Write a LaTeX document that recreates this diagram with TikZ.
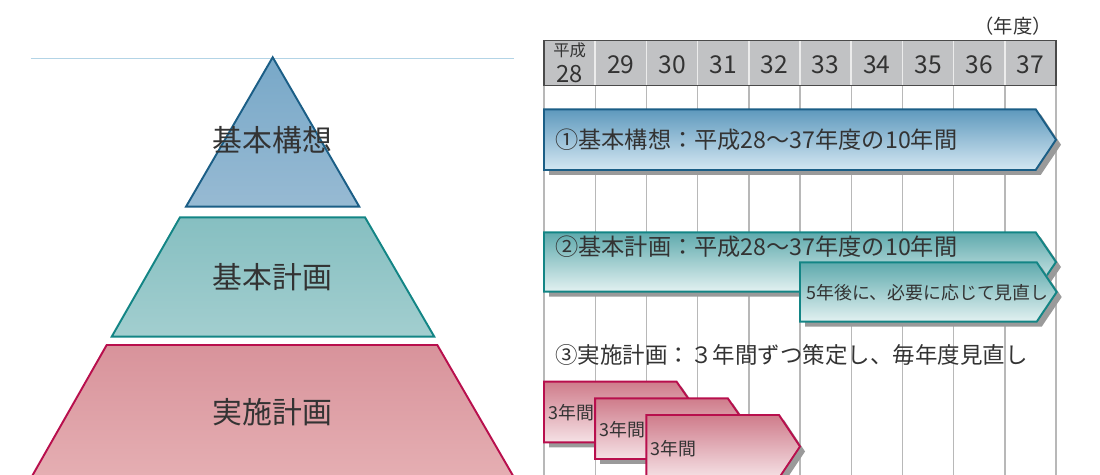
\documentclass[tikz,border=0pt]{standalone}
\usepackage{fontspec}
\setmainfont{Noto Sans CJK JP}
\definecolor{txtc}{HTML}{333333}
\definecolor{blueE}{HTML}{1B5E86}
\definecolor{blueT}{HTML}{5E99BD}
\definecolor{blueB}{HTML}{D4E7F2}
\definecolor{tealE}{HTML}{138585}
\definecolor{tealT}{HTML}{5FAAAD}
\definecolor{tealB}{HTML}{E2F1F1}
\definecolor{pinkE}{HTML}{B80F4D}
\definecolor{pinkT}{HTML}{CF7C8B}
\definecolor{pinkB}{HTML}{F5E1E5}
\definecolor{pyrBT}{HTML}{78A8C8}
\definecolor{pyrBB}{HTML}{97BAD3}
\definecolor{pyrTT}{HTML}{86BFC1}
\definecolor{pyrTB}{HTML}{A2CECF}
\definecolor{pyrPT}{HTML}{D8939B}
\definecolor{pyrPB}{HTML}{E6B0B4}
\definecolor{shad}{HTML}{9A9A9A}
\definecolor{hdr}{HTML}{C1C2C4}
\definecolor{hdrE}{HTML}{4A4A4A}
\definecolor{gridc}{HTML}{B8B8B8}
\definecolor{topln}{HTML}{B3D4E6}
\begin{document}
\begin{tikzpicture}[x=0.02cm,y=-0.02cm,
  txt/.style={inner sep=0pt, text=txtc},
  pyl/.style={txt, font=\fontsize{17}{19}\selectfont},
  bartxt/.style={txt, anchor=west, font=\fontsize{13.2}{15}\selectfont},
  smalltxt/.style={txt, anchor=west, font=\fontsize{10.2}{12}\selectfont},
  hdrtxt/.style={txt, font=\fontsize{14}{16}\selectfont},
  bluebar/.style={draw=blueE, line width=1.1pt, top color=blueT, bottom color=blueB},
  tealbar/.style={draw=tealE, line width=1.1pt, top color=tealT, bottom color=tealB},
  pinkbar/.style={draw=pinkE, line width=1.1pt, top color=pinkT, bottom color=pinkB},
  shadow/.style={fill=shad, shift={(5,5)}}]
\useasboundingbox (0,0) rectangle (1100,475);

% ---------- pyramid ----------
\draw[topln, line width=0.7pt] (30.7,58.3) -- (514,58.3);
\path[draw=blueE, line width=1.1pt, top color=pyrBT, bottom color=pyrBB]
  (272.7,57.3) -- (359.3,206.7) -- (186,206.7) -- cycle;
\path[draw=tealE, line width=1.1pt, top color=pyrTT, bottom color=pyrTB]
  (180,217.3) -- (365,217.3) -- (434.3,336.7) -- (111.7,336.7) -- cycle;
\path[draw=pinkE, line width=1.1pt, top color=pyrPT, bottom color=pyrPB]
  (106.7,345) -- (437.3,345) -- (518.4,485) -- (27,485) -- cycle;
\node[pyl] (p1) at (272.7,140) {基本構想};
\node[pyl] (p2) at (272.7,277) {基本計画};
\node[pyl] (p3) at (272.7,412) {実施計画};

% ---------- grid ----------
\foreach \i in {0,...,10}
  \draw[gridc, line width=0.8pt] (544+51.2*\i,85.7) -- (544+51.2*\i,480);
\fill[hdr] (544,40.7) rectangle (1056,85.7);
\foreach \i in {1,...,9}
  \draw[white!85!gray, line width=1pt] (544+51.2*\i,41.2) -- (544+51.2*\i,85.2);
\draw[hdrE, line width=0.8pt] (544,40.7) rectangle (1056,85.7);
\node[txt, font=\fontsize{9.3}{10}\selectfont] (h0a) at (569.6,50.5) {平成};
\node[txt, font=\fontsize{13.5}{14}\selectfont] (h0b) at (569.6,74) {28};
\foreach \i/\y in {1/29,2/30,3/31,4/32,5/33,6/34,7/35,8/36,9/37}
  \node[hdrtxt] (h\i) at (569.6+51.2*\i,64.3) {\y};
\node[txt, anchor=east, font=\fontsize{11}{13}\selectfont] (unit) at (1052,26) {（年度）};

% ---------- bar 1 ----------
\fill[shadow] (544,109.3) -- (1035.7,109.3) -- (1056,139.7) -- (1035.7,170) -- (544,170) -- cycle;
\path[bluebar] (544,109.3) -- (1035.7,109.3) -- (1056,139.7) -- (1035.7,170) -- (544,170) -- cycle;
\node[bartxt] (b1) at (555,140) {①基本構想：平成28～37年度の10年間};

% ---------- bar 2 ----------
\fill[shadow] (544,232.3) -- (1035.7,232.3) -- (1056,262) -- (1035.7,291.7) -- (544,291.7) -- cycle;
\path[tealbar] (544,232.3) -- (1035.7,232.3) -- (1056,262) -- (1035.7,291.7) -- (544,291.7) -- cycle;
\node[bartxt] (b2) at (555,246.7) {②基本計画：平成28～37年度の10年間};
\fill[shadow] (800,262.3) -- (1036.7,262.3) -- (1056.7,292) -- (1036.7,321.7) -- (800,321.7) -- cycle;
\path[tealbar] (800,262.3) -- (1036.7,262.3) -- (1056.7,292) -- (1036.7,321.7) -- (800,321.7) -- cycle;
\node[smalltxt] (b2s) at (806,293) {5年後に、必要に応じて見直し};

% ---------- bar 3 ----------
\node[bartxt, font=\fontsize{12.8}{15}\selectfont] (b3) at (555,355) {③実施計画：３年間ずつ策定し、毎年度見直し};
\fill[shadow] (544,381.7) -- (676.6,381.7) -- (697.6,412) -- (676.6,442.3) -- (544,442.3) -- cycle;
\path[pinkbar] (544,381.7) -- (676.6,381.7) -- (697.6,412) -- (676.6,442.3) -- (544,442.3) -- cycle;
\node[smalltxt] (y1) at (548.3,412.3) {3年間};
\fill[shadow] (595.2,398.3) -- (727.8,398.3) -- (748.8,428.7) -- (727.8,459) -- (595.2,459) -- cycle;
\path[pinkbar] (595.2,398.3) -- (727.8,398.3) -- (748.8,428.7) -- (727.8,459) -- (595.2,459) -- cycle;
\node[smalltxt] (y2) at (599.3,430) {3年間};
\fill[shadow] (646.4,415) -- (779,415) -- (800,446.5) -- (779,478) -- (646.4,478) -- cycle;
\path[pinkbar] (646.4,415) -- (779,415) -- (800,446.5) -- (779,478) -- (646.4,478) -- cycle;
\node[smalltxt] (y3) at (650,448.3) {3年間};
\end{tikzpicture}
\end{document}
